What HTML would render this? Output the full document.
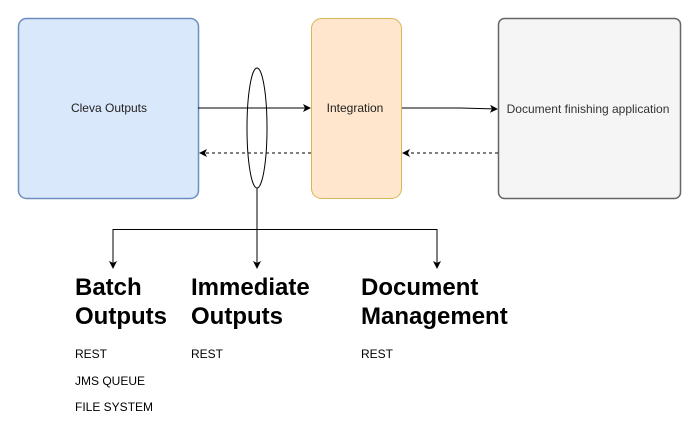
<!DOCTYPE html>
<html><head><style>
body{margin:0;width:699px;height:433px;background:#fff;position:relative;font-family:"Liberation Sans",Arial,sans-serif;overflow:hidden}
.h{position:absolute;font-weight:bold;font-size:24px;line-height:29px;color:#000}
.s{position:absolute;font-size:12px;color:#000}
</style></head><body>
<svg width="699" height="433" style="position:absolute;left:0;top:0">
<defs>
<marker id="a" markerWidth="8" markerHeight="8" refX="7" refY="4" orient="auto" markerUnits="userSpaceOnUse"><path d="M0,0 L8,4 L0,8 L2,4z" fill="#000"/></marker>
</defs>
<rect x="18.5" y="18.5" width="180" height="180" rx="8" fill="#dae8fc" stroke="#6c8ebf" stroke-width="1.5"/>
<rect x="311.5" y="18.5" width="90" height="180" rx="10" fill="#ffe6cc" stroke="#d6b656" stroke-width="1"/>
<rect x="498.5" y="18.5" width="182" height="180" rx="6" fill="#f5f5f5" stroke="#666" stroke-width="1.5"/>
<text x="109" y="112" font-size="12" text-anchor="middle" font-family="Liberation Sans,Arial,sans-serif" fill="#222">Cleva Outputs</text>
<text x="355" y="112" font-size="12" text-anchor="middle" font-family="Liberation Sans,Arial,sans-serif" fill="#222">Integration</text>
<text x="588" y="113" font-size="12" text-anchor="middle" font-family="Liberation Sans,Arial,sans-serif" fill="#333">Document finishing application</text>
<line x1="198" y1="108" x2="310" y2="108" stroke="#000" marker-end="url(#a)"/>
<path d="M402,108 L460,108 L497,109" fill="none" stroke="#000" marker-end="url(#a)"/>
<line x1="311" y1="153" x2="200" y2="153" stroke="#000" stroke-dasharray="3,3" marker-end="url(#a)"/>
<line x1="498" y1="153" x2="403" y2="153" stroke="#000" stroke-dasharray="3,3" marker-end="url(#a)"/>
<ellipse cx="257" cy="128" rx="10" ry="60" fill="none" stroke="#000"/>
<line x1="257" y1="188" x2="257" y2="268" stroke="#000" marker-end="url(#a)"/>
<polyline points="113,268 113,229.5 437,229.5 437,268" fill="none" stroke="#000"/>
<line x1="113" y1="260" x2="113" y2="268" stroke="#000" marker-end="url(#a)"/>
<line x1="437" y1="260" x2="437" y2="268" stroke="#000" marker-end="url(#a)"/>
</svg>
<div class="h" style="left:75px;top:273px">Batch<br>Outputs</div>
<div class="h" style="left:191px;top:273px">Immediate<br>Outputs</div>
<div class="h" style="left:361px;top:273px">Document<br>Management</div>
<div class="s" style="left:75px;top:347px">REST</div>
<div class="s" style="left:75px;top:374px">JMS QUEUE</div>
<div class="s" style="left:75px;top:400px">FILE SYSTEM</div>
<div class="s" style="left:191px;top:347px">REST</div>
<div class="s" style="left:361px;top:347px">REST</div>
</body></html>
